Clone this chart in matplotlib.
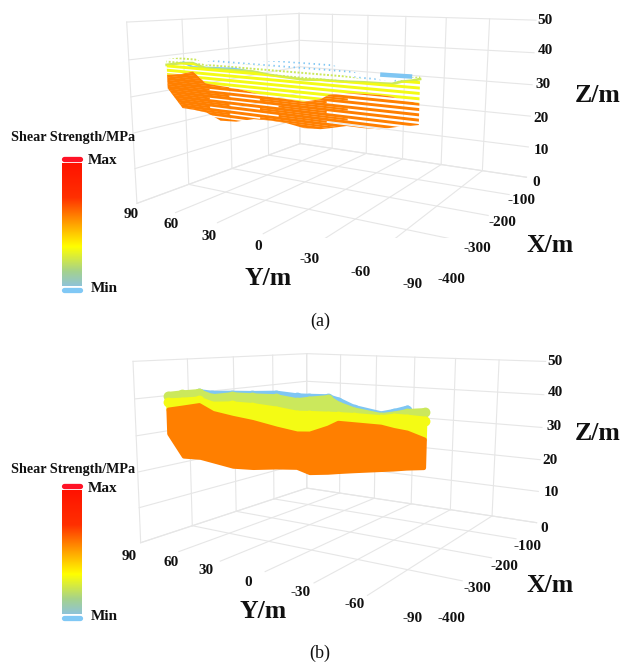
import numpy as np
import matplotlib
matplotlib.use("Agg")
import matplotlib.pyplot as plt
from matplotlib.colors import LinearSegmentedColormap
from matplotlib.lines import Line2D
from matplotlib.path import Path
from mpl_toolkits.mplot3d import proj3d
from mpl_toolkits.mplot3d.art3d import Poly3DCollection

W, H = 623, 663

# axis ticks
x_ticks = [-400, -300, -200, -100, 0]
y_ticks = [90, 60, 30, 0, -30, -60, -90]
z_ticks = [0, 10, 20, 30, 40, 50]

# slab position along X
slab_x = -350

# panel (a) : Y, bottom of orange, top of orange, top of yellow, top of lime, top of blue
a_y = [83, 72, 63, 54, 44, 33, 21, 10, 0, -11, -21, -26, -36, -45, -54, -60, -65, -70, -74]
a_bot = [31.3, 26.2, 26.1, 25.8, 24.1, 24.4, 25.7, 25.9, 25.8, 25.1, 25.4, 25.9, 27.0, 27.0, 27.2, 27.9, 28.5, 28.9, 29.3]
a_org = [35.1, 35.7, 36.7, 33.8, 33.5, 33.3, 32.6, 32.1, 31.9, 31.7, 32.8, 34.1, 34.9, 35.1, 35.2, 35.1, 34.6, 34.4, 34.2]
a_yel = [37.9, 38.7, 39.0, 37.9, 37.9, 38.0, 38.1, 37.6, 37.4, 37.2, 37.5, 37.5, 37.6, 37.8, 37.9, 38.0, 38.7, 39.1, 39.6]
a_lime = [39.5, 40.3, 40.9, 38.8, 39.5, 39.7, 39.8, 39.7, 39.6, 39.5, 39.5, 39.4, 39.0, 38.5, 38.2, 38.1, 39.2, 39.9, 40.2]
a_blue = [np.nan, np.nan, np.nan, 39.7, 40.4, 40.6, 40.8, 41.1, 41.4, 41.5, 41.6, 41.5, 40.4, 39.5, 38.7, 38.4, 40.2, 40.5, np.nan]
a_streak_y = [70, 63, 33, 15]
a_streak_z = [39.0, 37.9, 38.4, 37.8]
a_blob_y = [-55, -69]
a_blob_z = [39.9, 40.0]
# stretches of Y where the orange points are packed tight
a_dense_1 = [(90, 38), (16, -36)]
a_dense_2 = [(90, 52), (4, -24)]

# panel (b)
b_y = [86, 75, 62, 52, 38, 24, 8, -5, -13, -24, -30, -39, -54, -61, -68, -77]
b_bot = [29.6, 23.7, 24.0, 23.5, 22.8, 23.2, 24.2, 24.8, 23.9, 24.6, 25.1, 25.8, 26.9, 27.4, 28.0, 28.6]
b_org = [36.4, 37.3, 38.4, 36.6, 35.8, 35.2, 34.1, 33.4, 33.7, 35.6, 37.0, 37.0, 37.0, 36.5, 36.2, 35.0]
b_yel = [39.0, 39.5, 40.2, 39.1, 39.6, 39.6, 39.2, 38.6, 38.8, 39.0, 39.1, 39.2, 39.2, 39.8, 39.8, 39.7]
b_lime = [40.8, 41.5, 42.2, 41.1, 42.0, 42.1, 42.3, 41.7, 42.3, 43.0, 41.6, 40.5, 39.7, 40.3, 41.1, 41.6]
b_blue = [np.nan, np.nan, 42.2, 42.0, 42.4, 42.7, 43.2, 42.9, 43.0, 43.2, 42.6, 41.1, 40.1, 40.9, 41.9, np.nan]

# colour scale from Min to Max
scale_pos = [0, 0.12, 0.32, 0.52, 0.72, 1]
scale_colors = ["#8fc3d8", "#a5d28c", "#ffff00", "#ff9a00", "#ff3000", "#ff1200"]

orange = "#ff7f00"
yellow = "#f4fb14"
lime = "#cbe85c"
blue = "#7fc6f3"
grid_color = "#e6e6e6"

fig = plt.figure(figsize=(W/100, H/100), dpi=100)
fig.patch.set_facecolor("white")


def label(x, y, s, size, weight="bold"):
    fig.text(x/W, 1-y/H, s, ha="center", va="center", fontsize=size, color="#111111",
             family="Liberation Serif", weight=weight)


def make_axes(left, bottom_y, side, elev, azim, roll, focal, box):
    ax = fig.add_axes([left/W, 1-bottom_y/H, side/W, side/H], projection="3d")
    ax.set_xlim(-400, 0)
    ax.set_ylim(-90, 90)
    ax.set_zlim(0, 50)
    ax.view_init(elev=elev, azim=azim, roll=roll)
    ax.set_proj_type("persp", focal_length=focal)
    ax.set_box_aspect(box)
    ax.set_axis_off()
    ax.computed_zorder = False
    return ax


def draw_grid(ax):
    kw = dict(color=grid_color, lw=0.8, zorder=1)
    for z in z_ticks:
        ax.plot([-400, 0], [90, 90], [z, z], **kw)
        ax.plot([0, 0], [90, -90], [z, z], **kw)
    for x in x_ticks:
        ax.plot([x, x], [90, 90], [0, 50], **kw)
    for y in y_ticks[:-1]:
        ax.plot([0, 0], [y, y], [0, 50], **kw)
        ax.plot([-400, 0], [y, y], [0, 0], **kw)
    for x in x_ticks[1:]:
        ax.plot([x, x], [90, -90], [0, 0], **kw)


def band_path(ax, ys, lo, hi):
    ys = np.array(ys, float)
    lo = np.array(lo, float)
    hi = np.array(hi, float)
    ok = ~np.isnan(hi)
    by = np.concatenate([ys[ok], ys[ok][::-1], ys[ok][:1]])
    bz = np.concatenate([hi[ok], lo[ok][::-1], hi[ok][:1]])
    u, v, _ = proj3d.proj_transform(np.full(len(by), slab_x), by, bz, ax.get_proj())
    return Path(np.column_stack([u, v]))


def draw_rows(ax, ys, lo, hi, color, lw, style, zorder, stretches=((90, -90),), start=16.0, step=1.2):
    # horizontal rows of survey points, only shown inside the band
    path = band_path(ax, ys, lo, hi)
    for z in np.arange(start, 44, step):
        for y0, y1 in stretches:
            line, = ax.plot([slab_x, slab_x], [y0, y1], [z, z], color=color, lw=lw, ls=style, zorder=zorder)
            line.set_clip_path(path, ax.transData)


def draw_band(ax, ys, top, bottom, color, zorder, dots):
    ys = np.array(ys, float)
    top = np.array(top, float)
    bottom = np.array(bottom, float)
    ok = ~np.isnan(top)
    verts = list(zip(np.full(ok.sum(), slab_x), ys[ok], top[ok]))
    verts += list(zip(np.full(ok.sum(), slab_x), ys[ok][::-1], bottom[ok][::-1]))
    poly = Poly3DCollection([verts], facecolor=color, edgecolor=color, linewidths=3.2, zorder=zorder)
    poly.set_joinstyle("round")
    ax.add_collection3d(poly)
    if dots:
        ax.scatter(np.full(ok.sum(), slab_x), ys[ok], top[ok]-0.6, s=50, color=color, linewidths=0,
                   depthshade=False, zorder=zorder)


def draw_scale(top, bottom):
    cmap = LinearSegmentedColormap.from_list("shear", list(zip(scale_pos, scale_colors)))
    bar = fig.add_axes([62/W, 1-bottom/H, 20/W, (bottom-top)/H])
    bar.imshow(np.linspace(1, 0, 256).reshape(-1, 1), aspect="auto", cmap=cmap)
    bar.set_axis_off()
    for y, c in ((top-4, "#ff1226"), (bottom+4, "#80c8f5")):
        fig.add_artist(Line2D([64/W, 80/W], [1-y/H, 1-y/H], color=c, lw=3.8, solid_capstyle="round"))


# ----- panel (a)
ax_a = make_axes(125.69, 327.83, 429.49, 10.5094, -150.3964, -0.3810, 0.2714, (1.6253, 1.7449, 1))
draw_grid(ax_a)
draw_rows(ax_a, a_y, a_lime, a_blue, blue, 1.3, (0, (0.8, 2.0)), 2)
draw_rows(ax_a, a_y, a_yel, a_lime, lime, 1.4, (0, (1.0, 0.9)), 3)
ax_a.plot(np.full(4, slab_x), a_streak_y, a_streak_z, color=blue, lw=1.5, zorder=3)
ax_a.plot(np.full(2, slab_x), a_blob_y, a_blob_z, color=blue, lw=3.2, zorder=3)
ax_a.plot(np.full(len(a_y), slab_x), a_y, a_yel, color=lime, lw=1.9, zorder=4)
draw_rows(ax_a, a_y, a_org, a_yel, yellow, 2.1, "-", 5)
draw_rows(ax_a, a_y, a_bot, a_org, orange, 2.1, "-", 6)
draw_rows(ax_a, a_y, a_bot, a_org, orange, 1.5, "-", 6, stretches=a_dense_1, start=16.6, step=2.4)
draw_rows(ax_a, a_y, a_bot, a_org, orange, 1.5, "-", 6, stretches=a_dense_2, start=17.8, step=2.4)

# ----- panel (b)
ax_b = make_axes(128.55, 671.03, 433.31, 9.7151, -149.0012, -0.5686, 0.2994, (1.6188, 1.7400, 1))
draw_grid(ax_b)
draw_band(ax_b, b_y, b_blue, b_yel, blue, 2, True)
draw_band(ax_b, b_y, b_lime, b_yel, lime, 3, True)
draw_band(ax_b, b_y, b_yel, b_org, yellow, 4, True)
draw_band(ax_b, b_y, b_org, b_bot, orange, 5, False)

# ----- colour scales
draw_scale(163, 286)
draw_scale(490, 614)

# ----- hand placed labels, as on the figure
tick_size = 11
for s, x, y in [("50", 545, 21), ("40", 545, 51), ("30", 543, 85), ("20", 541, 119), ("10", 541, 150), ("0", 536, 183),
                ("-100", 521, 201), ("-200", 502, 223), ("-300", 477, 249), ("-400", 451, 279),
                ("90", 131, 214), ("60", 171, 224), ("30", 209, 236), ("0", 258, 247), ("-30", 310, 260), ("-60", 361, 272), ("-90", 413, 284),
                ("50", 555, 362), ("40", 555, 392), ("30", 554, 426), ("20", 550, 460), ("10", 551, 492), ("0", 544, 528),
                ("-100", 527, 546), ("-200", 504, 567), ("-300", 477, 588), ("-400", 451, 618),
                ("90", 129, 557), ("60", 171, 562), ("30", 206, 570), ("0", 248, 582), ("-30", 301, 593), ("-60", 355, 605), ("-90", 413, 618)]:
    label(x, y, s, tick_size)

for s, x, y in [("Z/m", 598, 96), ("X/m", 550, 246), ("Y/m", 268, 278), ("Z/m", 598, 434), ("X/m", 550, 586), ("Y/m", 263, 612)]:
    label(x, y, s, 18.5)

label(73, 138, "Shear Strength/MPa", 10.2)
label(73, 469, "Shear Strength/MPa", 10.2)
for s, x, y in [("Max", 103, 161), ("Min", 104, 288), ("Max", 103, 488), ("Min", 104, 616)]:
    label(x, y, s, 11)
label(320, 321, "(a)", 13, weight="normal")
label(320, 653, "(b)", 13, weight="normal")

fig.savefig("out.png", dpi=100)
